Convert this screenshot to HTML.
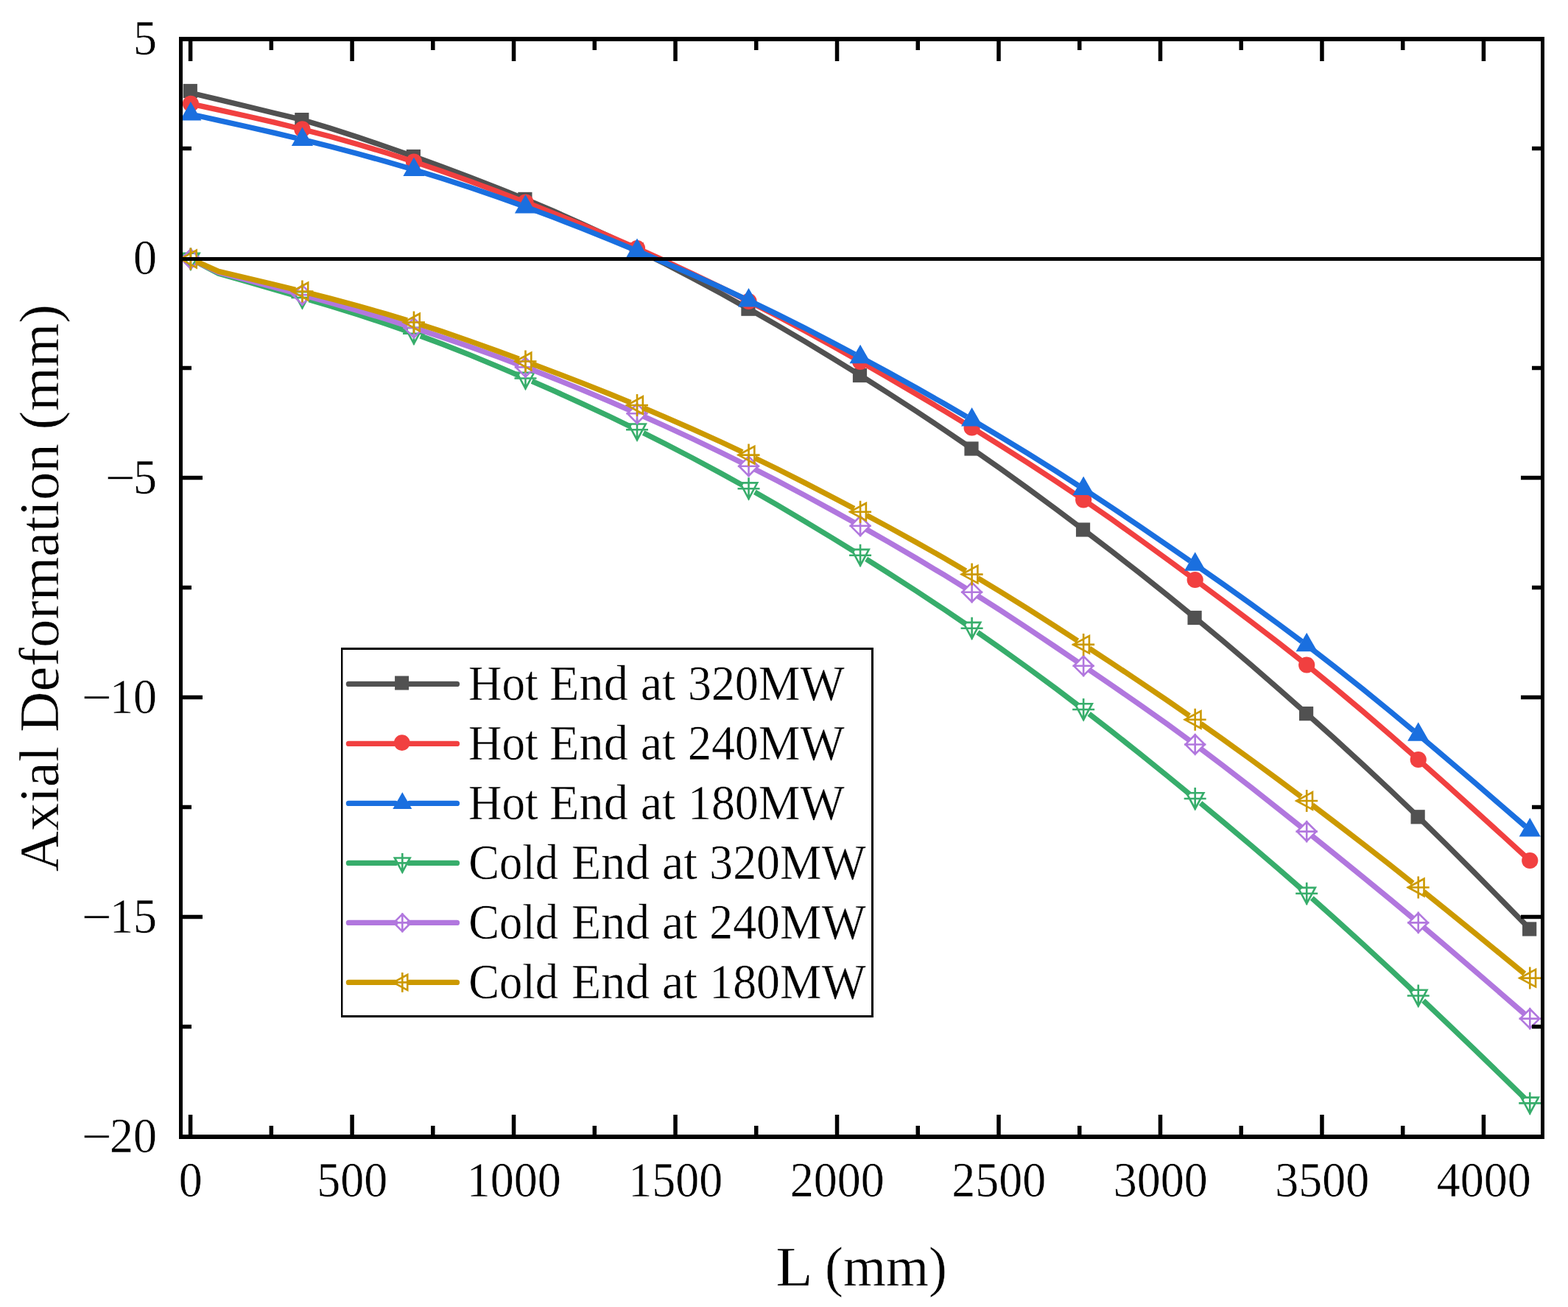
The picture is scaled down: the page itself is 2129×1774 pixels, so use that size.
<!DOCTYPE html>
<html lang="en"><head><meta charset="utf-8"><title>Axial Deformation vs L</title>
<style>html,body{margin:0;padding:0;background:#fff}body{width:2129px;height:1774px;overflow:hidden}svg{display:block}text{font-family:"Liberation Serif",serif;fill:#000;stroke:#fff;stroke-width:.45px;font-kerning:none}</style></head><body>
<svg width="2129" height="1774" viewBox="0 0 2129 1774">
<rect width="2129" height="1774" fill="#fff"/>
<defs><clipPath id="plot"><rect x="248" y="56" width="1844" height="1484"/></clipPath></defs>
<g clip-path="url(#plot)">
<g><path d="M266.87 127.93L296.78 135.15L334.66 144.3L372.55 153.45L402.46 160.67M418.28 164.97L448.31 174.05L486.19 186.29L524.08 199.15L554.23 209.77M569.67 215.29L599.84 226.22L637.72 240.38L675.61 255.07L705.89 267.32M721.04 273.6L751.37 286.44L789.25 303.22L827.14 320.74L857.63 335.44M872.35 342.68L902.9 358L940.78 377.72L978.67 398.13L1009.38 415.21M1023.67 423.28L1054.43 440.9L1092.31 463.2L1130.2 486.07L1161.11 505.19M1175.01 513.88L1205.96 533.46L1243.84 558L1281.73 583.17L1312.84 604.38M1326.33 613.7L1357.49 635.54L1395.38 662.75L1433.26 690.59L1464.58 714.08M1477.65 723.98L1509.02 747.96L1546.9 777.49L1584.79 807.65L1616.31 833.32M1628.97 843.75L1660.55 870.06L1698.43 902.3L1736.32 935.17L1768.05 963.17M1780.3 974.08L1812.08 1002.58L1849.96 1037.19L1887.85 1072.56L1919.8 1103.13M1931.58 1114.54L1963.61 1145.98L2001.49 1183.9L2039.38 1222.33L2071.52 1255.14" fill="none" stroke="#515151" stroke-width="7.3" stroke-linejoin="round" stroke-linecap="butt"/>
<rect x="248.7" y="113.9" width="19.2" height="19.2" fill="#515151"/>
<rect x="400.23" y="153" width="19.2" height="19.2" fill="#515151"/>
<rect x="551.76" y="202.9" width="19.2" height="19.2" fill="#515151"/>
<rect x="703.29" y="260.8" width="19.2" height="19.2" fill="#515151"/>
<rect x="854.82" y="329.4" width="19.2" height="19.2" fill="#515151"/>
<rect x="1006.35" y="409.6" width="19.2" height="19.2" fill="#515151"/>
<rect x="1157.88" y="499.9" width="19.2" height="19.2" fill="#515151"/>
<rect x="1309.41" y="599.4" width="19.2" height="19.2" fill="#515151"/>
<rect x="1460.94" y="709.4" width="19.2" height="19.2" fill="#515151"/>
<rect x="1612.47" y="828.9" width="19.2" height="19.2" fill="#515151"/>
<rect x="1764" y="959" width="19.2" height="19.2" fill="#515151"/>
<rect x="1915.53" y="1099.2" width="19.2" height="19.2" fill="#515151"/>
<rect x="2067.06" y="1251.4" width="19.2" height="19.2" fill="#515151"/>
</g>
<g><path d="M266.92 142.63L296.78 149.08L334.66 157.44L372.55 166.15L402.46 173.46M418.36 177.48L448.31 185.33L486.19 195.98L524.08 207.37L554.15 217M569.72 222.14L599.84 232.37L637.72 245.89L675.61 259.97L705.83 271.56M721.12 277.5L751.37 289.41L789.25 304.75L827.14 320.59L857.5 333.74M872.5 340.36L902.9 354.04L940.78 371.72L978.67 390.04L1009.22 405.33M1023.83 412.77L1054.43 428.59L1092.31 448.79L1130.2 469.53L1160.93 486.79M1175.19 494.88L1205.96 512.55L1243.84 534.75L1281.73 557.41L1312.61 576.23M1326.58 584.83L1357.49 604.03L1395.38 628.1L1433.26 652.82L1464.34 673.72M1477.88 682.98L1509.02 704.61L1546.9 731.62L1584.79 759.14L1616.06 782.14M1629.26 791.88L1660.55 815.08L1698.43 843.55L1736.32 872.61L1767.76 897.42M1780.56 907.68L1812.08 933.38L1849.96 965.17L1887.85 997.75L1919.57 1025.59M1931.85 1036.46L1963.61 1064.78L2001.49 1098.96L2039.38 1133.42L2071.2 1162.47" fill="none" stroke="#F14040" stroke-width="7.3" stroke-linejoin="round" stroke-linecap="butt"/>
<circle cx="258.9" cy="140.9" r="11.1" fill="#F14040"/>
<circle cx="410.43" cy="175.4" r="11.1" fill="#F14040"/>
<circle cx="561.96" cy="219.5" r="11.1" fill="#F14040"/>
<circle cx="713.49" cy="274.5" r="11.1" fill="#F14040"/>
<circle cx="865.02" cy="337" r="11.1" fill="#F14040"/>
<circle cx="1016.55" cy="409" r="11.1" fill="#F14040"/>
<circle cx="1168.08" cy="490.8" r="11.1" fill="#F14040"/>
<circle cx="1319.61" cy="580.5" r="11.1" fill="#F14040"/>
<circle cx="1471.14" cy="678.3" r="11.1" fill="#F14040"/>
<circle cx="1622.67" cy="787" r="11.1" fill="#F14040"/>
<circle cx="1774.2" cy="902.5" r="11.1" fill="#F14040"/>
<circle cx="1925.73" cy="1031" r="11.1" fill="#F14040"/>
<circle cx="2077.26" cy="1168" r="11.1" fill="#F14040"/>
</g>
<g><path d="M266.91 156.76L296.78 163.32L334.66 171.75L372.55 180.41L402.45 187.51M418.39 191.38L448.31 198.83L486.19 208.76L524.08 219.24L554.09 228M569.8 232.72L599.84 241.99L637.72 254.31L675.61 267.25L705.77 278.04M721.17 283.67L751.37 294.95L789.25 309.65L827.14 324.86L857.44 337.37M872.57 343.7L902.9 356.56L940.78 373.07L978.67 390.13L1009.12 404.33M1023.93 411.37L1054.43 426.13L1092.31 445.1L1130.2 464.64L1160.83 480.86M1175.29 488.61L1205.96 505.24L1243.84 526.26L1281.73 547.77L1312.52 565.68M1326.66 574L1357.49 592.36L1395.38 615.47L1433.26 639.18L1464.24 659.07M1477.99 668.01L1509.02 688.45L1546.9 713.96L1584.79 739.91L1615.93 761.52M1629.38 770.91L1660.55 792.78L1698.43 819.78L1736.32 847.36L1767.63 870.79M1780.69 880.71L1812.08 904.92L1849.96 934.98L1887.85 965.77L1919.42 991.96M1932 1002.49L1963.61 1029.17L2001.49 1061.55L2039.38 1094.21L2071.06 1121.63" fill="none" stroke="#1A6FDF" stroke-width="7.3" stroke-linejoin="round" stroke-linecap="butt"/>
<path d="M258.9 138.1L273.5 163.6L244.3 163.6Z" fill="#1A6FDF"/>
<path d="M410.43 172.5L425.03 198L395.83 198Z" fill="#1A6FDF"/>
<path d="M561.96 213.4L576.56 238.9L547.36 238.9Z" fill="#1A6FDF"/>
<path d="M713.49 263.9L728.09 289.4L698.89 289.4Z" fill="#1A6FDF"/>
<path d="M865.02 323.6L879.62 349.1L850.42 349.1Z" fill="#1A6FDF"/>
<path d="M1016.55 390.9L1031.15 416.4L1001.95 416.4Z" fill="#1A6FDF"/>
<path d="M1168.08 467.8L1182.68 493.3L1153.48 493.3Z" fill="#1A6FDF"/>
<path d="M1319.61 552.9L1334.21 578.4L1305.01 578.4Z" fill="#1A6FDF"/>
<path d="M1471.14 646.6L1485.74 672.1L1456.54 672.1Z" fill="#1A6FDF"/>
<path d="M1622.67 749.3L1637.27 774.8L1608.07 774.8Z" fill="#1A6FDF"/>
<path d="M1774.2 858.8L1788.8 884.3L1759.6 884.3Z" fill="#1A6FDF"/>
<path d="M1925.73 980.3L1940.33 1005.8L1911.13 1005.8Z" fill="#1A6FDF"/>
<path d="M2077.26 1110.1L2091.86 1135.6L2062.66 1135.6Z" fill="#1A6FDF"/>
</g>
<g><path d="M267.33 355.88L296.78 371.2L334.66 382.02L372.55 392.92L401.31 401.33M419.53 406.73L448.31 415.35L486.19 427.13L524.08 439.52L552.99 449.58M570.86 456.01L599.84 466.79L637.72 481.7L675.61 497.32L704.75 509.77M722.19 517.32L751.37 530.16L789.25 547.3L827.14 565L856.47 579.17M873.52 587.55L902.9 602.25L940.78 621.87L978.67 642.18L1008.24 658.59M1024.79 667.93L1054.43 684.93L1092.31 707.3L1130.2 730.25L1160 748.7M1176.11 758.77L1205.96 777.6L1243.84 802L1281.73 827.01L1311.75 847.37M1327.4 858.14L1357.49 879.15L1395.38 906.36L1433.26 934.31L1463.57 957.26M1478.65 968.82L1509.02 992.4L1546.9 1022.42L1584.79 1052.99L1615.32 1077.98M1629.98 1090.06L1660.55 1115.4L1698.43 1147.26L1736.32 1179.66L1767.04 1206.46M1781.29 1219.02L1812.08 1246.45L1849.96 1280.88L1887.85 1315.92L1918.81 1345M1932.61 1358.05L1963.61 1387.55L2001.49 1423.97L2039.38 1460.62L2070.44 1490.78" fill="none" stroke="#37AD6B" stroke-width="7.3" stroke-linejoin="round" stroke-linecap="butt"/>
<path d="M247.2 343.7L270.6 343.7L258.9 365.4ZM243.9 351.5H273.9M258.9 336.5V366.5" fill="none" stroke="#37AD6B" stroke-width="2.6" stroke-linejoin="miter"/>
<path d="M398.73 396.2L422.13 396.2L410.43 417.9ZM395.43 404H425.43M410.43 389V419" fill="none" stroke="#37AD6B" stroke-width="2.6" stroke-linejoin="miter"/>
<path d="M550.26 444.9L573.66 444.9L561.96 466.6ZM546.96 452.7H576.96M561.96 437.7V467.7" fill="none" stroke="#37AD6B" stroke-width="2.6" stroke-linejoin="miter"/>
<path d="M701.79 505.7L725.19 505.7L713.49 527.4ZM698.49 513.5H728.49M713.49 498.5V528.5" fill="none" stroke="#37AD6B" stroke-width="2.6" stroke-linejoin="miter"/>
<path d="M853.32 575.5L876.72 575.5L865.02 597.2ZM850.02 583.3H880.02M865.02 568.3V598.3" fill="none" stroke="#37AD6B" stroke-width="2.6" stroke-linejoin="miter"/>
<path d="M1004.85 655.4L1028.25 655.4L1016.55 677.1ZM1001.55 663.2H1031.55M1016.55 648.2V678.2" fill="none" stroke="#37AD6B" stroke-width="2.6" stroke-linejoin="miter"/>
<path d="M1156.38 745.9L1179.78 745.9L1168.08 767.6ZM1153.08 753.7H1183.08M1168.08 738.7V768.7" fill="none" stroke="#37AD6B" stroke-width="2.6" stroke-linejoin="miter"/>
<path d="M1307.91 844.9L1331.31 844.9L1319.61 866.6ZM1304.61 852.7H1334.61M1319.61 837.7V867.7" fill="none" stroke="#37AD6B" stroke-width="2.6" stroke-linejoin="miter"/>
<path d="M1459.44 955.2L1482.84 955.2L1471.14 976.9ZM1456.14 963H1486.14M1471.14 948V978" fill="none" stroke="#37AD6B" stroke-width="2.6" stroke-linejoin="miter"/>
<path d="M1610.97 1076.2L1634.37 1076.2L1622.67 1097.9ZM1607.67 1084H1637.67M1622.67 1069V1099" fill="none" stroke="#37AD6B" stroke-width="2.6" stroke-linejoin="miter"/>
<path d="M1762.5 1204.9L1785.9 1204.9L1774.2 1226.6ZM1759.2 1212.7H1789.2M1774.2 1197.7V1227.7" fill="none" stroke="#37AD6B" stroke-width="2.6" stroke-linejoin="miter"/>
<path d="M1914.03 1343.7L1937.43 1343.7L1925.73 1365.4ZM1910.73 1351.5H1940.73M1925.73 1336.5V1366.5" fill="none" stroke="#37AD6B" stroke-width="2.6" stroke-linejoin="miter"/>
<path d="M2065.56 1489.6L2088.96 1489.6L2077.26 1511.3ZM2062.26 1497.4H2092.26M2077.26 1482.4V1512.4" fill="none" stroke="#37AD6B" stroke-width="2.6" stroke-linejoin="miter"/>
</g>
<g><path d="M267.45 355.63L296.78 369.8L334.66 379.8L372.55 389.9L401.26 397.71M419.58 402.76L448.31 410.78L486.19 421.73L524.08 433.11L552.9 442.16M570.98 447.97L599.84 457.46L637.72 470.51L675.61 484.15L704.6 495.06M722.33 501.87L751.37 513.25L789.25 528.69L827.14 544.68L856.31 557.4M873.68 565.09L902.9 578.23L940.78 595.79L978.67 613.94L1008.04 628.48M1025 637.03L1054.43 652.11L1092.31 672.13L1130.2 692.71L1159.78 709.18M1176.34 718.5L1205.96 735.37L1243.84 757.49L1281.73 780.24L1311.53 798.7M1327.61 808.82L1357.49 827.92L1395.38 852.78L1433.26 878.13L1463.28 898.47M1478.98 909.16L1509.02 929.71L1546.9 955.99L1584.79 982.85L1615 1004.9M1630.25 1016.22L1660.55 1039.07L1698.43 1068.41L1736.32 1098.33L1766.78 1122.67M1781.6 1134.55L1812.08 1159.07L1849.96 1189.79L1887.85 1220.87L1918.43 1246.32M1932.98 1258.54L1963.61 1284.46L2001.49 1316.94L2039.38 1349.7L2070.09 1376.37" fill="none" stroke="#B177DE" stroke-width="7.3" stroke-linejoin="round" stroke-linecap="butt"/>
<path d="M258.9 338.4L272 351.5L258.9 364.6L245.8 351.5ZM244.1 351.5H273.7M258.9 336.7V366.3" fill="none" stroke="#B177DE" stroke-width="2.6" stroke-linejoin="miter"/>
<path d="M410.43 387.1L423.53 400.2L410.43 413.3L397.33 400.2ZM395.63 400.2H425.23M410.43 385.4V415" fill="none" stroke="#B177DE" stroke-width="2.6" stroke-linejoin="miter"/>
<path d="M561.96 431.9L575.06 445L561.96 458.1L548.86 445ZM547.16 445H576.76M561.96 430.2V459.8" fill="none" stroke="#B177DE" stroke-width="2.6" stroke-linejoin="miter"/>
<path d="M713.49 485.3L726.59 498.4L713.49 511.5L700.39 498.4ZM698.69 498.4H728.29M713.49 483.6V513.2" fill="none" stroke="#B177DE" stroke-width="2.6" stroke-linejoin="miter"/>
<path d="M865.02 548.1L878.12 561.2L865.02 574.3L851.92 561.2ZM850.22 561.2H879.82M865.02 546.4V576" fill="none" stroke="#B177DE" stroke-width="2.6" stroke-linejoin="miter"/>
<path d="M1016.55 619.6L1029.65 632.7L1016.55 645.8L1003.45 632.7ZM1001.75 632.7H1031.35M1016.55 617.9V647.5" fill="none" stroke="#B177DE" stroke-width="2.6" stroke-linejoin="miter"/>
<path d="M1168.08 700.7L1181.18 713.8L1168.08 726.9L1154.98 713.8ZM1153.28 713.8H1182.88M1168.08 699V728.6" fill="none" stroke="#B177DE" stroke-width="2.6" stroke-linejoin="miter"/>
<path d="M1319.61 790.6L1332.71 803.7L1319.61 816.8L1306.51 803.7ZM1304.81 803.7H1334.41M1319.61 788.9V818.5" fill="none" stroke="#B177DE" stroke-width="2.6" stroke-linejoin="miter"/>
<path d="M1471.14 890.7L1484.24 903.8L1471.14 916.9L1458.04 903.8ZM1456.34 903.8H1485.94M1471.14 889V918.6" fill="none" stroke="#B177DE" stroke-width="2.6" stroke-linejoin="miter"/>
<path d="M1622.67 997.4L1635.77 1010.5L1622.67 1023.6L1609.57 1010.5ZM1607.87 1010.5H1637.47M1622.67 995.7V1025.3" fill="none" stroke="#B177DE" stroke-width="2.6" stroke-linejoin="miter"/>
<path d="M1774.2 1115.5L1787.3 1128.6L1774.2 1141.7L1761.1 1128.6ZM1759.4 1128.6H1789M1774.2 1113.8V1143.4" fill="none" stroke="#B177DE" stroke-width="2.6" stroke-linejoin="miter"/>
<path d="M1925.73 1239.3L1938.83 1252.4L1925.73 1265.5L1912.63 1252.4ZM1910.93 1252.4H1940.53M1925.73 1237.6V1267.2" fill="none" stroke="#B177DE" stroke-width="2.6" stroke-linejoin="miter"/>
<path d="M2077.26 1369.5L2090.36 1382.6L2077.26 1395.7L2064.16 1382.6ZM2062.46 1382.6H2092.06M2077.26 1367.8V1397.4" fill="none" stroke="#B177DE" stroke-width="2.6" stroke-linejoin="miter"/>
</g>
<g><path d="M267.58 355.37L296.78 368.4L334.66 377.26L372.55 386.26L401.2 393.25M419.64 397.84L448.31 405.12L486.19 415.25L524.08 426L552.87 434.74M570.99 440.44L599.84 449.83L637.72 462.87L675.61 476.48L704.58 487.2M722.38 493.86L751.37 504.82L789.25 519.46L827.14 534.5L856.23 546.4M873.77 553.7L902.9 566.02L940.78 582.6L978.67 599.79L1007.95 613.56M1025.09 621.76L1054.43 636.07L1092.31 655.12L1130.2 674.69L1159.68 690.26M1176.44 699.2L1205.96 715.1L1243.84 735.97L1281.73 757.43L1311.41 774.8M1327.74 784.52L1357.49 802.54L1395.38 826.17L1433.26 850.33L1463.17 869.73M1479.08 880.11L1509.02 899.77L1546.9 924.98L1584.79 950.63L1614.85 971.4M1630.43 982.28L1660.55 1003.55L1698.43 1030.87L1736.32 1058.7L1766.59 1081.31M1781.77 1092.74L1812.08 1115.74L1849.96 1144.9L1887.85 1174.49L1918.28 1198.6M1933.14 1210.45L1963.61 1234.91L2001.49 1265.63L2039.38 1296.56L2069.91 1321.58" fill="none" stroke="#CC9900" stroke-width="7.3" stroke-linejoin="round" stroke-linecap="butt"/>
<path d="M266.7 339.8L266.7 363.2L245 351.5ZM243.9 351.5H273.9M258.9 336.5V366.5" fill="none" stroke="#CC9900" stroke-width="2.6" stroke-linejoin="miter"/>
<path d="M418.23 383.8L418.23 407.2L396.53 395.5ZM395.43 395.5H425.43M410.43 380.5V410.5" fill="none" stroke="#CC9900" stroke-width="2.6" stroke-linejoin="miter"/>
<path d="M569.76 425.8L569.76 449.2L548.06 437.5ZM546.96 437.5H576.96M561.96 422.5V452.5" fill="none" stroke="#CC9900" stroke-width="2.6" stroke-linejoin="miter"/>
<path d="M721.29 478.8L721.29 502.2L699.59 490.5ZM698.49 490.5H728.49M713.49 475.5V505.5" fill="none" stroke="#CC9900" stroke-width="2.6" stroke-linejoin="miter"/>
<path d="M872.82 538.3L872.82 561.7L851.12 550ZM850.02 550H880.02M865.02 535V565" fill="none" stroke="#CC9900" stroke-width="2.6" stroke-linejoin="miter"/>
<path d="M1024.35 605.9L1024.35 629.3L1002.65 617.6ZM1001.55 617.6H1031.55M1016.55 602.6V632.6" fill="none" stroke="#CC9900" stroke-width="2.6" stroke-linejoin="miter"/>
<path d="M1175.88 683L1175.88 706.4L1154.18 694.7ZM1153.08 694.7H1183.08M1168.08 679.7V709.7" fill="none" stroke="#CC9900" stroke-width="2.6" stroke-linejoin="miter"/>
<path d="M1327.41 767.9L1327.41 791.3L1305.71 779.6ZM1304.61 779.6H1334.61M1319.61 764.6V794.6" fill="none" stroke="#CC9900" stroke-width="2.6" stroke-linejoin="miter"/>
<path d="M1478.94 863.2L1478.94 886.6L1457.24 874.9ZM1456.14 874.9H1486.14M1471.14 859.9V889.9" fill="none" stroke="#CC9900" stroke-width="2.6" stroke-linejoin="miter"/>
<path d="M1630.47 965.1L1630.47 988.5L1608.77 976.8ZM1607.67 976.8H1637.67M1622.67 961.8V991.8" fill="none" stroke="#CC9900" stroke-width="2.6" stroke-linejoin="miter"/>
<path d="M1782 1075.3L1782 1098.7L1760.3 1087ZM1759.2 1087H1789.2M1774.2 1072V1102" fill="none" stroke="#CC9900" stroke-width="2.6" stroke-linejoin="miter"/>
<path d="M1933.53 1192.8L1933.53 1216.2L1911.83 1204.5ZM1910.73 1204.5H1940.73M1925.73 1189.5V1219.5" fill="none" stroke="#CC9900" stroke-width="2.6" stroke-linejoin="miter"/>
<path d="M2085.06 1315.9L2085.06 1339.3L2063.36 1327.6ZM2062.26 1327.6H2092.26M2077.26 1312.6V1342.6" fill="none" stroke="#CC9900" stroke-width="2.6" stroke-linejoin="miter"/>
</g>
</g>
<rect x="248" y="349" width="1844" height="5" fill="#000" shape-rendering="crispEdges"/>
<path d="M255.85 1540v-27h5.5v27zM255.85 56v27h5.5v-27zM365.59 1540v-12h5.5v12zM365.59 56v12h5.5v-12zM475.33 1540v-27h5.5v27zM475.33 56v27h5.5v-27zM585.07 1540v-12h5.5v12zM585.07 56v12h5.5v-12zM694.81 1540v-27h5.5v27zM694.81 56v27h5.5v-27zM804.55 1540v-12h5.5v12zM804.55 56v12h5.5v-12zM914.29 1540v-27h5.5v27zM914.29 56v27h5.5v-27zM1024.03 1540v-12h5.5v12zM1024.03 56v12h5.5v-12zM1133.77 1540v-27h5.5v27zM1133.77 56v27h5.5v-27zM1243.51 1540v-12h5.5v12zM1243.51 56v12h5.5v-12zM1353.25 1540v-27h5.5v27zM1353.25 56v27h5.5v-27zM1462.99 1540v-12h5.5v12zM1462.99 56v12h5.5v-12zM1572.73 1540v-27h5.5v27zM1572.73 56v27h5.5v-27zM1682.47 1540v-12h5.5v12zM1682.47 56v12h5.5v-12zM1792.21 1540v-27h5.5v27zM1792.21 56v27h5.5v-27zM1901.95 1540v-12h5.5v12zM1901.95 56v12h5.5v-12zM2011.69 1540v-27h5.5v27zM2011.69 56v27h5.5v-27zM248 198.85h12v5.5h-12zM2092 198.85h-12v5.5h12zM248 496.85h12v5.5h-12zM2092 496.85h-12v5.5h12zM248 645.85h27v5.5h-27zM2092 645.85h-27v5.5h27zM248 794.85h12v5.5h-12zM2092 794.85h-12v5.5h12zM248 943.85h27v5.5h-27zM2092 943.85h-27v5.5h27zM248 1092.85h12v5.5h-12zM2092 1092.85h-12v5.5h12zM248 1241.85h27v5.5h-27zM2092 1241.85h-27v5.5h27zM248 1390.85h12v5.5h-12zM2092 1390.85h-12v5.5h12z" fill="#000"/>
<path d="M243 50H2097V1546H243ZM248 56V1540H2092V56Z" fill="#000" fill-rule="evenodd" shape-rendering="crispEdges"/>
<text transform="translate(258.8 1624.3) scale(0.96 1)" font-size="66.67" text-anchor="middle">0</text>
<text transform="translate(478.28 1624.3) scale(0.96 1)" font-size="66.67" text-anchor="middle">500</text>
<text transform="translate(697.76 1624.3) scale(0.96 1)" font-size="66.67" text-anchor="middle">1000</text>
<text transform="translate(917.24 1624.3) scale(0.96 1)" font-size="66.67" text-anchor="middle">1500</text>
<text transform="translate(1136.72 1624.3) scale(0.96 1)" font-size="66.67" text-anchor="middle">2000</text>
<text transform="translate(1356.2 1624.3) scale(0.96 1)" font-size="66.67" text-anchor="middle">2500</text>
<text transform="translate(1575.68 1624.3) scale(0.96 1)" font-size="66.67" text-anchor="middle">3000</text>
<text transform="translate(1795.16 1624.3) scale(0.96 1)" font-size="66.67" text-anchor="middle">3500</text>
<text transform="translate(2014.64 1624.3) scale(0.96 1)" font-size="66.67" text-anchor="middle">4000</text>
<text transform="translate(213 73.6) scale(0.96 1)" font-size="66.67" text-anchor="end">5</text>
<text transform="translate(213 371.6) scale(0.96 1)" font-size="66.67" text-anchor="end">0</text>
<text transform="translate(213 669.6) scale(0.96 1)" font-size="66.67" text-anchor="end"><tspan textLength="42.6" lengthAdjust="spacingAndGlyphs" dy="1.3">−</tspan><tspan dx="-3.1" dy="-1.3">5</tspan></text>
<text transform="translate(213 967.6) scale(0.96 1)" font-size="66.67" text-anchor="end"><tspan textLength="42.6" lengthAdjust="spacingAndGlyphs" dy="1.3">−</tspan><tspan dx="-3.1" dy="-1.3">10</tspan></text>
<text transform="translate(213 1265.6) scale(0.96 1)" font-size="66.67" text-anchor="end"><tspan textLength="42.6" lengthAdjust="spacingAndGlyphs" dy="1.3">−</tspan><tspan dx="-3.1" dy="-1.3">15</tspan></text>
<text transform="translate(213 1563.6) scale(0.96 1)" font-size="66.67" text-anchor="end"><tspan textLength="42.6" lengthAdjust="spacingAndGlyphs" dy="1.3">−</tspan><tspan dx="-3.1" dy="-1.3">20</tspan></text>
<text transform="translate(1055 1744.5)" font-size="77.0"><tspan x="-1.46" textLength="49.97" lengthAdjust="spacingAndGlyphs">L</tspan> <tspan x="65.12" textLength="165.65" lengthAdjust="spacingAndGlyphs">(mm)</tspan></text>
<text transform="translate(78.8 798.2) rotate(-90) scale(0.995 1)" font-size="77.0" text-anchor="middle">Axial Deformation (mm)</text>
<path d="M463 879H1186V1381H463ZM465.4 882V1378H1183V882Z" fill="#000" fill-rule="evenodd"/>
<path d="M473.4 928.4H536.8M555.8 928.4H620.5" stroke="#515151" stroke-width="7.3" stroke-linecap="round" fill="none"/>
<rect x="536.1" y="917.5" width="19.01" height="19.01" fill="#515151"/>
<text transform="translate(636 950.4)" font-size="66.67"><tspan x="0.09" textLength="94.48" lengthAdjust="spacingAndGlyphs">Hot</tspan> <tspan x="110.09" textLength="106.72" lengthAdjust="spacingAndGlyphs">End</tspan> <tspan x="233.69" textLength="47.5" lengthAdjust="spacingAndGlyphs">at</tspan> <tspan x="297.94" textLength="212.98" lengthAdjust="spacingAndGlyphs">320MW</tspan></text>
<path d="M473.4 1009.4H536.8M555.8 1009.4H620.5" stroke="#F14040" stroke-width="7.3" stroke-linecap="round" fill="none"/>
<circle cx="545.8" cy="1008.1" r="10.88" fill="#F14040"/>
<text transform="translate(636 1031.4)" font-size="66.67"><tspan x="0.09" textLength="94.48" lengthAdjust="spacingAndGlyphs">Hot</tspan> <tspan x="110.09" textLength="106.72" lengthAdjust="spacingAndGlyphs">End</tspan> <tspan x="233.69" textLength="47.5" lengthAdjust="spacingAndGlyphs">at</tspan> <tspan x="297.94" textLength="212.98" lengthAdjust="spacingAndGlyphs">240MW</tspan></text>
<path d="M473.4 1090.4H536.8M555.8 1090.4H620.5" stroke="#1A6FDF" stroke-width="7.3" stroke-linecap="round" fill="none"/>
<path d="M546.3 1075.36L559.29 1098.05L533.31 1098.05Z" fill="#1A6FDF"/>
<text transform="translate(636 1112.4)" font-size="66.67"><tspan x="0.09" textLength="94.48" lengthAdjust="spacingAndGlyphs">Hot</tspan> <tspan x="110.09" textLength="106.72" lengthAdjust="spacingAndGlyphs">End</tspan> <tspan x="233.69" textLength="47.5" lengthAdjust="spacingAndGlyphs">at</tspan> <tspan x="297.94" textLength="212.98" lengthAdjust="spacingAndGlyphs">180MW</tspan></text>
<path d="M473.4 1171.4H536.8M555.8 1171.4H620.5" stroke="#37AD6B" stroke-width="7.3" stroke-linecap="round" fill="none"/>
<path d="M535.89 1164.46L556.71 1164.46L546.3 1183.77ZM532.95 1171.4H559.65M546.3 1158.05V1184.75" fill="none" stroke="#37AD6B" stroke-width="2.6" stroke-linejoin="miter"/>
<text transform="translate(636 1193.4)" font-size="66.67"><tspan x="0.23" textLength="121.83" lengthAdjust="spacingAndGlyphs">Cold</tspan> <tspan x="140.1" textLength="106.1" lengthAdjust="spacingAndGlyphs">End</tspan> <tspan x="262.65" textLength="48.14" lengthAdjust="spacingAndGlyphs">at</tspan> <tspan x="327.35" textLength="212.47" lengthAdjust="spacingAndGlyphs">320MW</tspan></text>
<path d="M473.4 1252.4H536.8M555.8 1252.4H620.5" stroke="#B177DE" stroke-width="7.3" stroke-linecap="round" fill="none"/>
<path d="M546.3 1240.74L557.96 1252.4L546.3 1264.06L534.64 1252.4ZM533.13 1252.4H559.47M546.3 1239.23V1265.57" fill="none" stroke="#B177DE" stroke-width="2.6" stroke-linejoin="miter"/>
<text transform="translate(636 1274.4)" font-size="66.67"><tspan x="0.23" textLength="121.83" lengthAdjust="spacingAndGlyphs">Cold</tspan> <tspan x="140.1" textLength="106.1" lengthAdjust="spacingAndGlyphs">End</tspan> <tspan x="262.65" textLength="48.14" lengthAdjust="spacingAndGlyphs">at</tspan> <tspan x="327.35" textLength="212.47" lengthAdjust="spacingAndGlyphs">240MW</tspan></text>
<path d="M473.4 1333.4H536.8M555.8 1333.4H620.5" stroke="#CC9900" stroke-width="7.3" stroke-linecap="round" fill="none"/>
<path d="M553.24 1322.99L553.24 1343.81L533.93 1333.4ZM532.95 1333.4H559.65M546.3 1320.05V1346.75" fill="none" stroke="#CC9900" stroke-width="2.6" stroke-linejoin="miter"/>
<text transform="translate(636 1355.4)" font-size="66.67"><tspan x="0.23" textLength="121.83" lengthAdjust="spacingAndGlyphs">Cold</tspan> <tspan x="140.1" textLength="106.1" lengthAdjust="spacingAndGlyphs">End</tspan> <tspan x="262.65" textLength="48.14" lengthAdjust="spacingAndGlyphs">at</tspan> <tspan x="327.35" textLength="212.47" lengthAdjust="spacingAndGlyphs">180MW</tspan></text>
</svg></body></html>
